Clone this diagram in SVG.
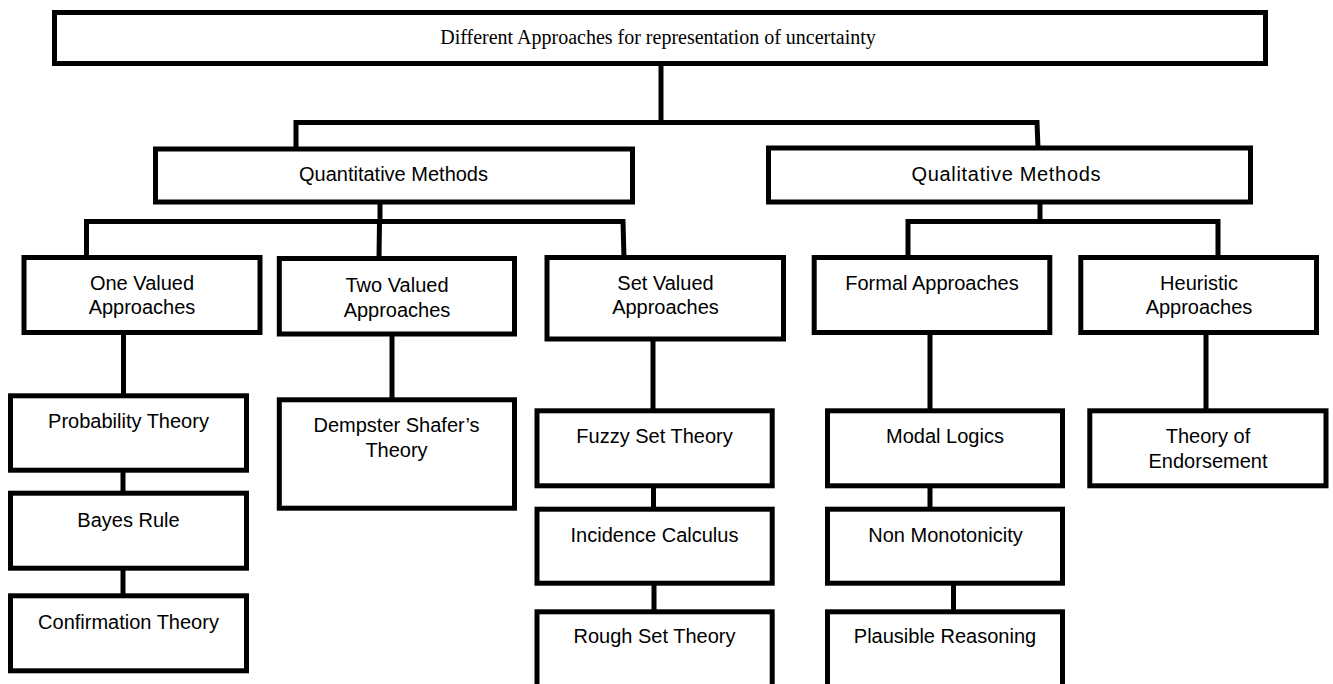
<svg xmlns="http://www.w3.org/2000/svg" width="1333" height="684" viewBox="0 0 1333 684">
<style>
.box{fill:#fff;stroke:#000;stroke-width:5}
.ln{fill:none;stroke:#000;stroke-width:5}
.t{font-family:"Liberation Sans",Arial,sans-serif;font-size:20px;fill:#000;text-anchor:middle}
.tt{font-family:"Liberation Serif","Times New Roman",serif;font-size:20px;fill:#000;text-anchor:middle}
</style>
<rect width="1333" height="684" fill="#fff"/>
<g id="connectors">
<path class="ln" d="M661,64 V122.5"/>
<path class="ln" d="M296,149 L296,122.5 L1037,122.5 L1038,148"/>
<path class="ln" d="M380,202 V221.5"/>
<path class="ln" d="M86.5,258 V221.5 H623 L624,258"/>
<path class="ln" d="M379.5,221.5 L379,259"/>
<path class="ln" d="M1040,202 V221.5"/>
<path class="ln" d="M908,258 V221.5 H1218 V258"/>
<path class="ln" d="M123.5,333 V396"/>
<path class="ln" d="M123,470 V494"/>
<path class="ln" d="M123,568 V596"/>
<path class="ln" d="M392,334 V400"/>
<path class="ln" d="M653,339 V411"/>
<path class="ln" d="M653.5,486 V510"/>
<path class="ln" d="M654,583 V612"/>
<path class="ln" d="M930,333 V411"/>
<path class="ln" d="M930,486 V510"/>
<path class="ln" d="M953.5,583 V612"/>
<path class="ln" d="M1206,333 V411"/>
</g>
<g id="root">
<rect class="box" x="54.5" y="12.5" width="1211" height="51"/>
<text class="tt" x="658" y="44">Different Approaches for representation of uncertainty</text>
</g>
<g id="quantitative">
<rect class="box" x="155.5" y="149" width="477" height="53"/>
<text class="t" x="393.5" y="181">Quantitative Methods</text>
</g>
<g id="qualitative">
<rect class="box" x="768.5" y="148" width="482" height="54"/>
<text class="t" x="1006" y="181" textLength="189">Qualitative Methods</text>
</g>
<g id="one-valued">
<rect class="box" x="24" y="257.5" width="236" height="75"/>
<text class="t" x="142" y="290">One Valued</text>
<text class="t" x="142" y="314">Approaches</text>
</g>
<g id="two-valued">
<rect class="box" x="279.3" y="258.5" width="235.2" height="75.5"/>
<text class="t" x="397" y="292">Two Valued</text>
<text class="t" x="397" y="316.5">Approaches</text>
</g>
<g id="set-valued">
<rect class="box" x="547" y="257.5" width="236.5" height="81.5"/>
<text class="t" x="665.5" y="290">Set Valued</text>
<text class="t" x="665.5" y="314">Approaches</text>
</g>
<g id="formal">
<rect class="box" x="814.2" y="257.5" width="235.6" height="75"/>
<text class="t" x="932" y="290">Formal Approaches</text>
</g>
<g id="heuristic">
<rect class="box" x="1080.8" y="257.5" width="235.7" height="75"/>
<text class="t" x="1199" y="290">Heuristic</text>
<text class="t" x="1199" y="314">Approaches</text>
</g>
<g id="probability">
<rect class="box" x="10.5" y="395.8" width="236" height="74.4"/>
<text class="t" x="128.5" y="428">Probability Theory</text>
</g>
<g id="bayes">
<rect class="box" x="10.5" y="493.2" width="236" height="75"/>
<text class="t" x="128.5" y="526.5">Bayes Rule</text>
</g>
<g id="confirmation">
<rect class="box" x="10.5" y="595.8" width="236" height="75"/>
<text class="t" x="128.5" y="629">Confirmation Theory</text>
</g>
<g id="dempster">
<rect class="box" x="279.3" y="399.8" width="235.2" height="108.4"/>
<text class="t" x="396.5" y="432">Dempster Shafer’s</text>
<text class="t" x="396.5" y="457">Theory</text>
</g>
<g id="fuzzy">
<rect class="box" x="537" y="410.8" width="235.2" height="75"/>
<text class="t" x="654.5" y="443">Fuzzy Set Theory</text>
</g>
<g id="incidence">
<rect class="box" x="537" y="509.2" width="235.2" height="74"/>
<text class="t" x="654.5" y="541.5">Incidence Calculus</text>
</g>
<g id="rough">
<rect class="box" x="537" y="611.8" width="235.2" height="80"/>
<text class="t" x="654.5" y="643">Rough Set Theory</text>
</g>
<g id="modal">
<rect class="box" x="827.5" y="410.8" width="235" height="75"/>
<text class="t" x="945" y="443">Modal Logics</text>
</g>
<g id="non-monotonicity">
<rect class="box" x="827.5" y="509.2" width="235" height="74"/>
<text class="t" x="945.5" y="541.5">Non Monotonicity</text>
</g>
<g id="plausible">
<rect class="box" x="827.5" y="611.8" width="235" height="80"/>
<text class="t" x="945" y="643">Plausible Reasoning</text>
</g>
<g id="endorsement">
<rect class="box" x="1089.8" y="410.8" width="236.2" height="75"/>
<text class="t" x="1208" y="443">Theory of</text>
<text class="t" x="1208" y="468">Endorsement</text>
</g>
</svg>
